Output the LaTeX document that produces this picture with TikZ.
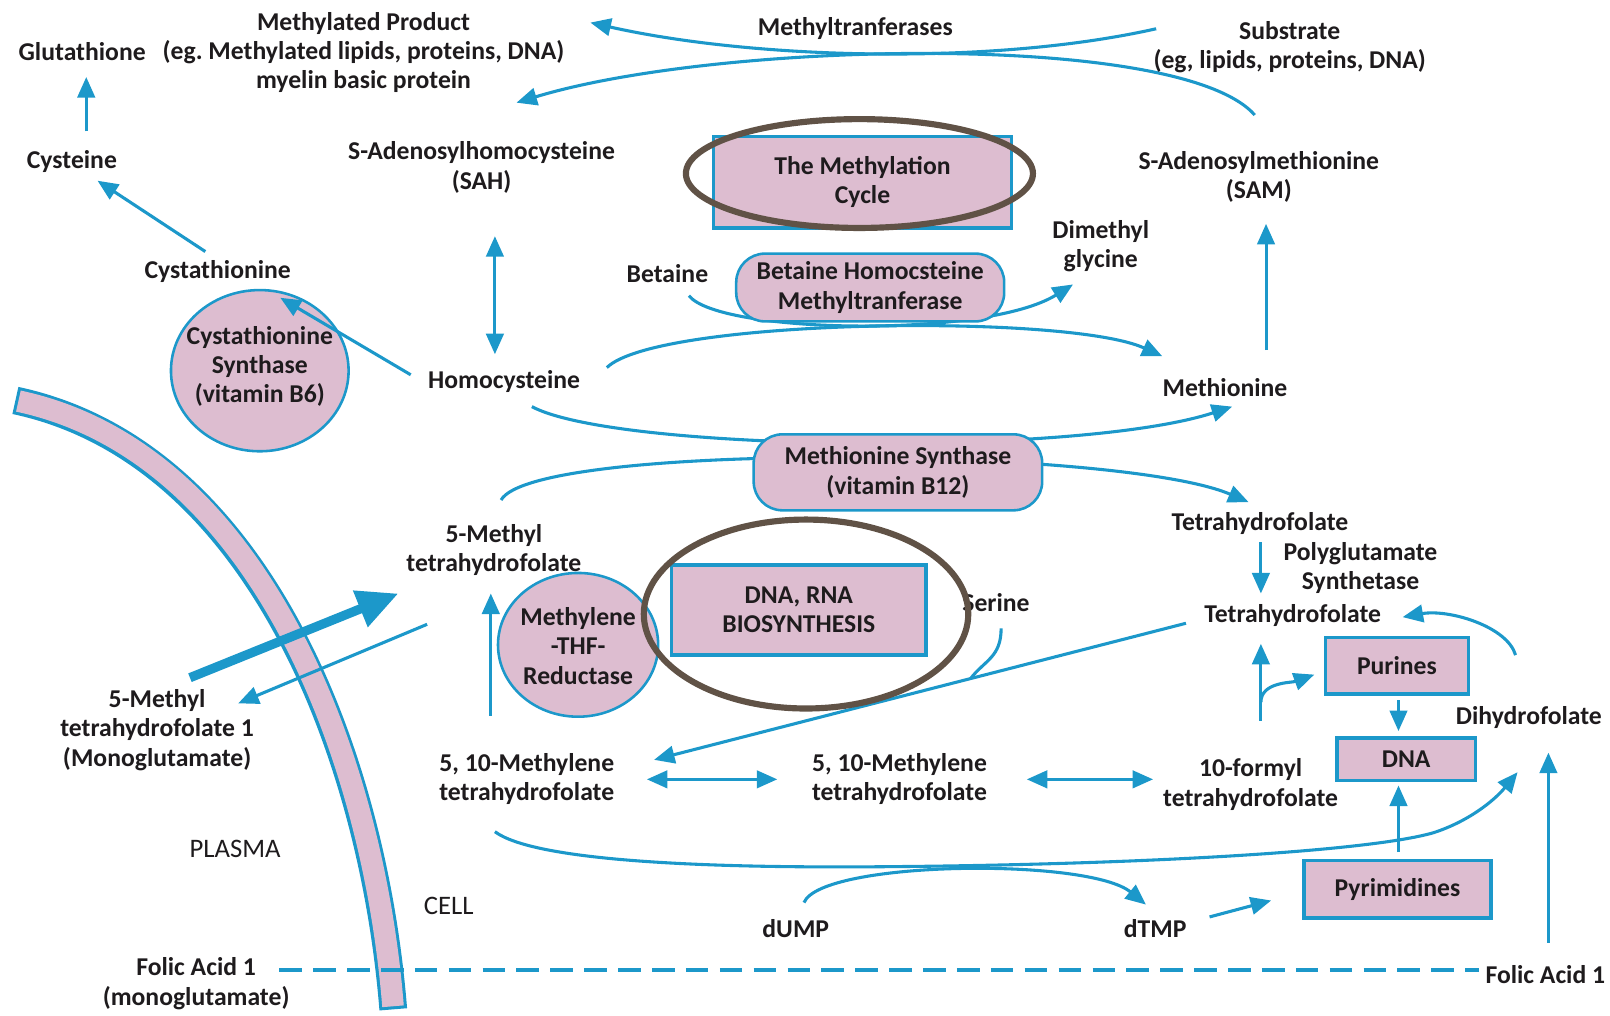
\documentclass[tikz,border=0pt]{standalone}
\usepackage{fontspec}
\setmainfont{Carlito}
\usetikzlibrary{arrows.meta, shapes.geometric, calc}
\definecolor{flow}{RGB}{28,152,202}
\definecolor{mauve}{RGB}{221,189,208}
\definecolor{ringc}{RGB}{96,82,70}
\definecolor{ink}{RGB}{30,27,29}
\newcommand{\lblfont}{\bfseries\fontsize{25}{28.5}\selectfont}
\pgfdeclarelayer{back}
\pgfsetlayers{back,main}
\frenchspacing

\begin{document}
\begin{tikzpicture}[x=1pt, y=-1pt, >={Triangle[length=20pt,width=17pt]},
			lbl/.style={align=center, font=\lblfont, text=ink, inner sep=1pt},
			arr/.style={->, draw=flow, line width=3pt},
			darr/.style={<->, draw=flow, line width=3pt},
			boxn/.style={lbl, rectangle, draw=flow, line width=3.5pt, fill=mauve},
			pill/.style={lbl, rectangle, rounded corners=28pt, draw=flow, line width=2.5pt, fill=mauve},
			blob/.style={ellipse, draw=flow, line width=2.5pt, fill=mauve, inner sep=0pt},
			halo/.style={ellipse, draw=ringc, line width=6pt, inner sep=0pt}]
			
			\useasboundingbox (0,0) rectangle (1568,989);
			
			% Nodi in alto
			\node[lbl] (glut) at (80,50) {Glutathione};
			\node[lbl] (mprod) at (354,51) {Methylated Product\\(eg. Methylated lipids, proteins, DNA)\\myelin basic protein};
			\node[lbl] (mtase) at (833,28) {Methyltranferases};
			\node[lbl] (subst) at (1256,46) {Substrate\\(eg, lipids, proteins, DNA)};
			\node[lbl] (cys) at (70,157) {Cysteine};
			\node[lbl] (sah) at (469,163) {S-Adenosylhomocysteine\\(SAH)};
			\node[boxn, minimum width=290pt, minimum height=89pt] (mcycle) at (840,177.5) {The Methylation\\Cycle};
			\node[lbl] (sam) at (1226,172) {S-Adenosylmethionine\\(SAM)};
			
			% Ciclo della metionina
			\node[lbl] (cysta) at (212,264) {Cystathionine};
			\node[lbl] (betaine) at (650,266) {Betaine};
			\node[pill, minimum width=261pt, minimum height=66pt] (bhmt) at (847.5,280) {Betaine Homocsteine\\Methyltranferase};
			\node[lbl] (dmg) at (1072,240) {Dimethyl\\glycine};
			\node[blob, minimum width=173pt, minimum height=157pt] (cbs) at (253,361) {};
			\node[lbl] (cbstxt) at (253,357) {Cystathionine\\Synthase\\(vitamin B6)};
			\node[lbl] (hcy) at (491,372) {Homocysteine};
			\node[lbl] (met) at (1193,377) {Methionine};
			\node[pill, minimum width=281pt, minimum height=74pt] (msyn) at (874.5,460) {Methionine Synthase\\(vitamin B12)};
			
			% Ciclo dei folati
			\node[lbl] (mthf) at (481,536) {5-Methyl\\tetrahydrofolate};
			\node[blob, minimum width=156pt, minimum height=140pt] (mthfr) at (563,628) {};
			\node[lbl] (mthfrtxt) at (563,629) {Methylene\\-THF-\\Reductase};
			\node[boxn, minimum width=248pt, minimum height=88pt] (dnarna) at (778,594) {DNA, RNA\\BIOSYNTHESIS};
			\node[lbl] (serine) at (970,587) {Serine};
			\node[lbl] (thfa) at (1227,510) {Tetrahydrofolate};
			\node[lbl] (pgs) at (1325,553) {Polyglutamate\\Synthetase};
			\node[lbl] (thfb) at (1259,599) {Tetrahydrofolate};
			\node[boxn, minimum width=139pt, minimum height=55pt] (purines) at (1360.5,648.5) {Purines};
			\node[boxn, minimum width=135pt, minimum height=41pt] (dnabox) at (1369.5,739.5) {DNA};
			\node[lbl] (dhf) at (1489,699) {Dihydrofolate};
			\node[boxn, minimum width=182pt, minimum height=56pt] (pyrim) at (1361,866) {Pyrimidines};
			\node[lbl] (mthfone) at (153,711) {5-Methyl\\tetrahydrofolate 1\\(Monoglutamate)};
			\node[lbl] (mlthfa) at (513,759) {5, 10-Methylene\\tetrahydrofolate};
			\node[lbl] (mlthfb) at (876,759) {5, 10-Methylene\\tetrahydrofolate};
			\node[lbl] (fthf) at (1218,764) {10-formyl\\tetrahydrofolate};
			\node[lbl, font=\fontsize{26}{28.5}\selectfont] (plasma) at (229,827) {PLASMA};
			\node[lbl, font=\fontsize{26}{28.5}\selectfont] (cell) at (437,882) {CELL};
			\node[lbl] (dump) at (775,904) {dUMP};
			\node[lbl] (dtmp) at (1125,904) {dTMP};
			\node[lbl] (folica) at (191,958) {Folic Acid 1\\(monoglutamate)};
			\node[lbl] (folicb) at (1505,949) {Folic Acid 1};
			
			\coordinate (thfout) at ([shift={(-104,8)}]thfb.center);
			\coordinate (mlin) at ([shift={(124,-19)}]mlthfa.center);
			\coordinate (serjoin) at ($(thfout)!0.405!(mlin)$);
			\coordinate (fup) at ([shift={(10,-62)}]fthf.center);
			\coordinate (fork) at ($(fup)+(0,-18)$);
			
			\begin{pgfonlayer}{back}
			% Membrana
			\draw[flow, line width=27pt] (15,390) .. controls (250,440) and (363,733) .. (383,983);
			\draw[mauve, line width=21pt, shorten <=3pt, shorten >=3pt] (15,390) .. controls (250,440) and (363,733) .. (383,983);
			
			% --- Transizioni in alto ---
			\draw[arr] ([shift={(14,-29)}]cys.center) -- ([shift={(4,25)}]glut.center);
			\draw[arr] ([shift={(-12,-19)}]cysta.center) -- ([shift={(25,19)}]cys.center);
			\draw[darr] ([shift={(13,67)}]sah.center) -- ([shift={(-9,-27)}]hcy.center);
			\draw[arr] ([shift={(-130,-18)}]subst.center) .. controls +(-160,36) and +(160,36) .. ([shift={(221,-29)}]mprod.center);
			\draw[arr] ([shift={(-4,-60)}]sam.center) .. controls +(-72,-82) and +(197,-60) .. ([shift={(149,49)}]mprod.center);
			\draw[arr] ([shift={(40,-36)}]met.center) -- ([shift={(7,46)}]sam.center);
			
			% Betaina e metionina sintasi
			\draw[arr] ([shift={(21,22)}]betaine.center) .. controls +(29,37) and +(-85,53) .. ([shift={(-27,37)}]dmg.center);
			\draw[arr] ([shift={(100,-14)}]hcy.center) .. controls +(49,-48) and +(-92,-42) .. ([shift={(-61,-30)}]met.center);
			\draw[arr] ([shift={(27,24)}]hcy.center) .. controls +(82,44) and +(-150,49) .. ([shift={(7,19)}]met.center);
			\draw[arr] ([shift={(7,-49)}]mthf.center) .. controls +(32,-57) and +(-126,-54) .. ([shift={(-11,-21)}]thfa.center);
			
			% Plasma e cellula
			\draw[-{Triangle[length=40pt,width=36pt]}, draw=flow, line width=9pt] ([shift={(32,-51)}]mthfone.center) -- ([shift={(-93,42)}]mthf.center);
			\draw[arr] ([shift={(-65,72)}]mthf.center) -- ([shift={(79,-26)}]mthfone.center);
			\draw[flow, line width=4pt, dash pattern=on 22pt off 11pt] ([shift={(81,-13)}]folica.center) -- ([shift={(-65,-4)}]folicb.center);
			
			% --- Transizioni in basso ---
			\draw[arr] ([shift={(-35,-62)}]mlthfa.center) -- ([shift={(-3,42)}]mthf.center);
			\draw[darr] ([shift={(117,0)}]mlthfa.center) -- ([shift={(-119,0)}]mlthfb.center);
			\draw[darr] ([shift={(124,0)}]mlthfb.center) -- ([shift={(-95,-5)}]fthf.center);
			\draw[arr] (thfout) -- (mlin);
			\draw[flow, line width=3pt] ([shift={(5,25)}]serine.center) .. controls +(0,28) and +(14,-18) .. (serjoin);
			\draw[arr] ([shift={(1,18)}]thfa.center) -- ([shift={(-31,-21)}]thfb.center);
			\draw[arr] (fup) -- ([shift={(-31,28)}]thfb.center);
			\draw[arr] (fork) .. controls +(0,-20) and +(-22,8) .. ([shift={(-80.5,8.5)}]purines.center);
			\draw[arr] ([shift={(1.5,33.5)}]purines.center) -- ([shift={(-7.5,-27.5)}]dnabox.center);
			\draw[arr] ([shift={(1,-36)}]pyrim.center) -- ([shift={(-7.5,25.5)}]dnabox.center);
			\draw[arr] ([shift={(-13,-61)}]dhf.center) .. controls +(-8,-28) and +(45,-8) .. ([shift={(107,2)}]thfb.center);
			\draw[arr] ([shift={(3,-31)}]folicb.center) -- ([shift={(19,34)}]dhf.center);
			\draw[arr] ([shift={(-31,51)}]mlthfa.center) .. controls +(38,28) and (680,846) .. (870,844)
				.. controls (1100,842) and (1330,830) .. (1396,811)
				.. controls (1430,800) and (1455,780) .. ([shift={(-11,53)}]dhf.center);
			\draw[arr] ([shift={(8,-25)}]dump.center) .. controls +(17,-41) and +(-56,-46) .. ([shift={(-9,-23)}]dtmp.center);
			\draw[arr] ([shift={(53,-11)}]dtmp.center) -- ([shift={(-123,11)}]pyrim.center);
			\end{pgfonlayer}
			
			% Freccia sopra il cerchio
			\draw[arr] ([shift={(-91,-7)}]hcy.center) -- ([shift={(61,26)}]cysta.center);
			
			% Evidenziazioni
			\node[halo, minimum width=338pt, minimum height=106pt] (ringa) at (837,169) {};
			\node[halo, minimum width=316pt, minimum height=184pt] (ringb) at (785,598) {};
		\end{tikzpicture}
\end{document}
